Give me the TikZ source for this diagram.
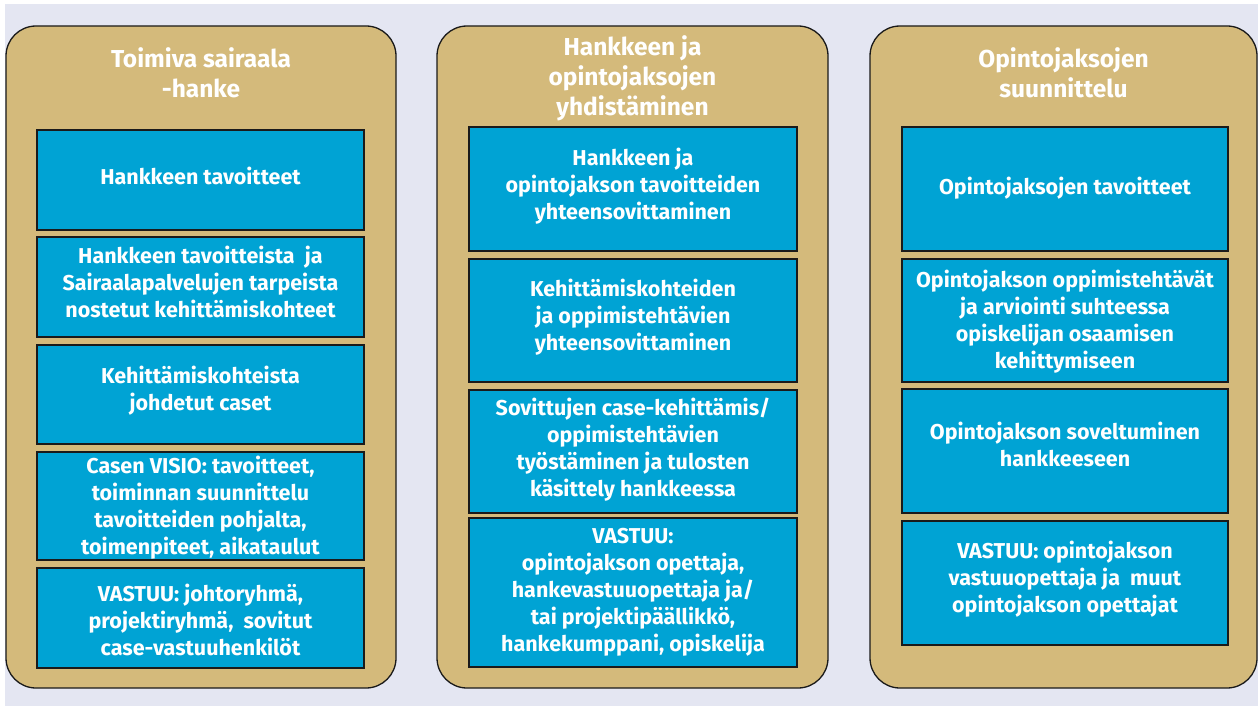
\documentclass[tikz,border=0pt]{standalone}
\usepackage{fontspec}
\setmainfont{Fira Sans}
\definecolor{pagebg}{HTML}{E4E6F2}
\definecolor{panelfill}{HTML}{D4BA7B}
\definecolor{boxfill}{HTML}{00A3D4}
\definecolor{edge}{HTML}{1A1A1A}
\begin{document}
\begin{tikzpicture}[x=1pt,y=-1pt,
  panel/.style={draw=edge, line width=1.3pt, fill=panelfill, rounded corners=30pt,
    minimum height=662pt, inner sep=0pt},
  ptitle/.style={text=white, align=center, font=\bfseries\fontsize{24.5}{30}\selectfont, inner sep=0pt},
  stepbox/.style={draw=edge, line width=1.3pt, fill=boxfill, inner sep=0pt},
  boxtext/.style={text=white, align=center, inner sep=0pt,
    font=\bfseries\fontsize{21.5}{27}\selectfont},
  colA/.style={stepbox, minimum width=327pt},
  colB/.style={stepbox, minimum width=328pt},
  colC/.style={stepbox, minimum width=326pt}]
\useasboundingbox (0,0) rectangle (1258,706);
\fill[white] (0,0) rectangle (1258,706);
\fill[pagebg] (5,4) rectangle (1258,706);

% three column panels
\node[panel, minimum width=390pt] (p1) at (201,357) {};
\node[panel, minimum width=391pt] (p2) at (632.5,357) {};
\node[panel, minimum width=387pt] (p3) at (1063.5,357) {};

% column titles
\node[ptitle] (t1) at (201,72.5) {Toimiva sairaala\\-hanke};
\node[ptitle] (t2) at (632.5,78) {Hankkeen ja\\opintojaksojen\\yhdistäminen};
\node[ptitle] (t3) at (1063.5,72.5) {Opintojaksojen\\suunnittelu};

% first column
\node[colA, minimum height=100pt] (a1) at (200.5,180) {};
\node[colA, minimum height=100pt] (a2) at (200.5,287) {};
\node[colA, minimum height=99pt]  (a3) at (200.5,394.5) {};
\node[colA, minimum height=108pt] (a4) at (200.5,506) {};
\node[colA, minimum height=100pt] (a5) at (200.5,618) {};
\node[boxtext] (a1t) at ([yshift=4pt]a1.center) {Hankkeen tavoitteet};
\node[boxtext] (a2t) at ([yshift=5pt]a2.center) {Hankkeen tavoitteista\ \ ja\\Sairaalapalvelujen tarpeista\\nostetut kehittämiskohteet};
\node[boxtext] (a3t) at ([yshift=3.5pt]a3.center) {Kehittämiskohteista\\johdetut caset};
\node[boxtext] (a4t) at ([yshift=-1.5pt]a4.center) {Casen VISIO: tavoitteet,\\toiminnan suunnittelu\\tavoitteiden pohjalta,\\toimenpiteet, aikataulut};
\node[boxtext] (a5t) at ([yshift=-1.5pt]a5.center) {VASTUU: johtoryhmä,\\projektiryhmä,\ \ sovitut\\case-vastuuhenkilöt};

% second column
\node[colB, minimum height=124pt] (b1) at (633,189) {};
\node[colB, minimum height=123pt] (b2) at (633,320.5) {};
\node[colB, minimum height=123pt] (b3) at (633,451.5) {};
\node[colB, minimum height=149pt] (b4) at (633,592.5) {};
\node[boxtext] (b1t) at ([yshift=2.5pt]b1.center) {Hankkeen ja\\opintojakson tavoitteiden\\yhteensovittaminen};
\node[boxtext] (b2t) at ([yshift=3pt]b2.center) {Kehittämiskohteiden\\ja oppimistehtävien\\yhteensovittaminen};
\node[boxtext] (b3t) at ([yshift=1.5pt]b3.center) {Sovittujen case-kehittämis/\\oppimistehtävien\\työstäminen ja tulosten\\käsittely hankkeessa};
\node[boxtext] (b4t) at (b4.center) {VASTUU:\\opintojakson opettaja,\\hankevastuuopettaja ja/\\tai projektipäällikkö,\\hankekumppani, opiskelija};

% third column
\node[colC, minimum height=124pt] (c1) at (1065,189) {};
\node[colC, minimum height=123pt] (c2) at (1065,320.5) {};
\node[colC, minimum height=124pt] (c3) at (1065,451) {};
\node[colC, minimum height=124pt] (c4) at (1065,583) {};
\node[boxtext] (c1t) at ([yshift=1pt]c1.center) {Opintojaksojen tavoitteet};
\node[boxtext] (c2t) at ([yshift=-1pt]c2.center) {Opintojakson oppimistehtävät\\ja arviointi suhteessa\\opiskelijan osaamisen\\kehittymiseen};
\node[boxtext] (c3t) at ([yshift=6.5pt]c3.center) {Opintojakson soveltuminen\\hankkeeseen};
\node[boxtext] (c4t) at ([yshift=3.5pt]c4.center) {VASTUU: opintojakson\\vastuuopettaja ja\ \ muut\\opintojakson opettajat};
\end{tikzpicture}
\end{document}
